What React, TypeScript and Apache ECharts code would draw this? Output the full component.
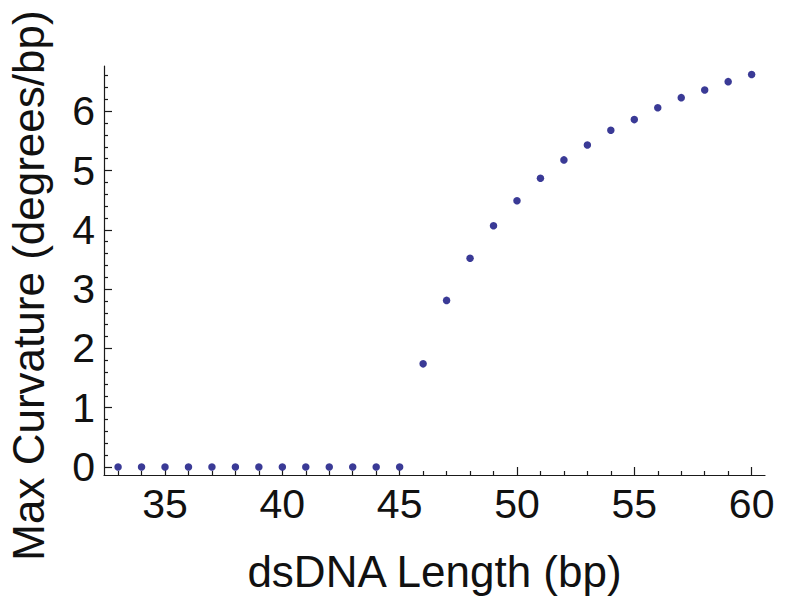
import React, { useEffect, useRef } from "react";
import * as echarts from "echarts";

const lengths = [33, 34, 35, 36, 37, 38, 39, 40, 41, 42, 43, 44, 45, 46, 47, 48, 49, 50, 51, 52, 53, 54, 55, 56, 57, 58, 59, 60];
const curvature = [0, 0, 0, 0, 0, 0, 0, 0, 0, 0, 0, 0, 0, 1.74, 2.81, 3.52, 4.07, 4.49, 4.87, 5.18, 5.43, 5.68, 5.86, 6.06, 6.23, 6.36, 6.5, 6.62];
const xTicks = [35, 40, 45, 50, 55, 60];
const yTicks = [0, 1, 2, 3, 4, 5, 6];
const xTitle = "dsDNA Length (bp)";
const yTitle = "Max Curvature (degrees/bp)";

const FONT = "'Liberation Sans', Arial, Helvetica, sans-serif";

export default function App() {
  const ref = useRef<HTMLDivElement>(null);
  useEffect(() => {
    if (!ref.current) return;
    const chart = echarts.init(ref.current, null, { renderer: "svg" });
    const axisColor = "#1a1a1a";
    chart.setOption({
      animation: false,
      backgroundColor: "#ffffff",
      grid: { left: 104, right: 25, top: 66, bottom: 121, containLabel: false, outerBoundsMode: "none" },
      xAxis: {
        type: "value",
        min: 32.4,
        max: 60.57,
        splitNumber: 5,
        name: xTitle,
        nameLocation: "middle",
        nameGap: 74,
        nameTextStyle: { fontFamily: FONT, fontSize: 44, color: "#111" },
        axisLine: { show: true, onZero: false, lineStyle: { color: axisColor, width: 1.2 } },
        axisTick: { show: true, inside: true, length: 8, customValues: xTicks, lineStyle: { color: axisColor, width: 1.2 } },
        minorTick: { show: true, splitNumber: 5, length: 4, lineStyle: { color: axisColor, width: 1.2 } },
        axisLabel: { customValues: xTicks, margin: 8, fontFamily: FONT, fontSize: 41, color: "#111" },
        splitLine: { show: false },
        minorSplitLine: { show: false },
      },
      yAxis: {
        type: "value",
        min: -0.135,
        max: 6.764,
        splitNumber: 7,
        name: yTitle,
        nameLocation: "middle",
        nameGap: 54,
        nameRotate: 90,
        nameTextStyle: { fontFamily: FONT, fontSize: 44, color: "#111", padding: [0, 30, 0, 0] },
        axisLine: { show: true, onZero: false, lineStyle: { color: axisColor, width: 1.2 } },
        axisTick: { show: true, inside: true, length: 8, customValues: yTicks, lineStyle: { color: axisColor, width: 1.2 } },
        minorTick: { show: true, splitNumber: 5, length: 4, lineStyle: { color: axisColor, width: 1.2 } },
        axisLabel: { customValues: yTicks, margin: 9, fontFamily: FONT, fontSize: 41, color: "#111" },
        splitLine: { show: false },
        minorSplitLine: { show: false },
      },
      series: [
        {
          type: "scatter",
          data: lengths.map((x, i) => [x, curvature[i]]),
          symbol: "circle",
          symbolSize: 7.5,
          itemStyle: { color: "#3a3a96", opacity: 1 },
          clip: false,
        },
      ],
    });
    return () => chart.dispose();
  }, []);
  return <div ref={ref} style={{ width: 790, height: 596, position: "absolute", left: 0, top: 0 }} />;
}
